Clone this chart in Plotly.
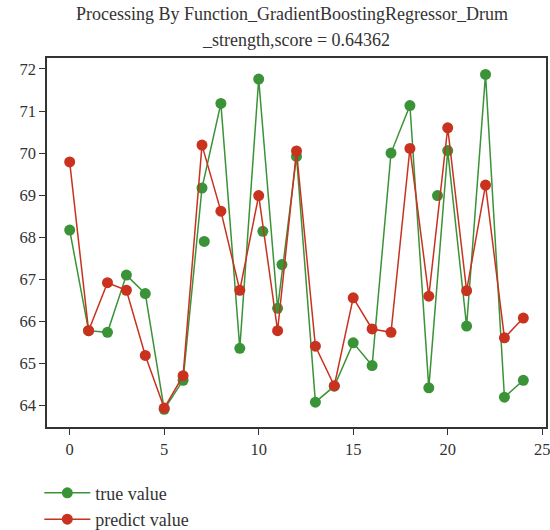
import plotly.graph_objects as go

title_line1 = "Processing By Function_GradientBoostingRegressor_Drum"
title_line2 = "_strength,score = 0.64362"

x_idx = list(range(25))
true_vals = [68.17, 65.78, 65.74, 67.10, 66.66, 63.91, 64.60, 69.17, 71.18, 65.36,
             71.76, 66.31, 69.92, 64.08, 64.46, 65.49, 64.95, 70.00, 71.13, 64.42,
             70.06, 65.89, 71.87, 64.20, 64.60]
pred_vals = [69.79, 65.78, 66.92, 66.74, 65.19, 63.94, 64.71, 70.19, 68.62, 66.74,
             68.99, 65.78, 70.05, 65.41, 64.47, 66.56, 65.82, 65.74, 70.11, 66.60,
             70.60, 66.73, 69.24, 65.61, 66.08]
extra_true_x = [7.12, 10.22, 11.23, 19.46]
extra_true_y = [67.90, 68.14, 67.35, 68.99]

GREEN = "#3a9337"
RED = "#c8321f"
FONT = "Liberation Serif"
AXC = "#333333"

fig = go.Figure()
fig.add_trace(go.Scatter(x=x_idx, y=true_vals, mode="lines+markers", name="true value",
                         legendgroup="t",
                         line=dict(color=GREEN, width=1.5),
                         marker=dict(color=GREEN, size=11)))
fig.add_trace(go.Scatter(x=extra_true_x, y=extra_true_y, mode="markers", showlegend=False,
                         marker=dict(color=GREEN, size=11)))
fig.add_trace(go.Scatter(x=x_idx, y=pred_vals, mode="lines+markers", name="predict value",
                         legendgroup="p",
                         line=dict(color=RED, width=1.5),
                         marker=dict(color=RED, size=11)))

fig.update_layout(
    width=550, height=530,
    margin=dict(l=47, r=4, t=58, b=103, autoexpand=False),
    paper_bgcolor="white", plot_bgcolor="white",
    font=dict(family=FONT, size=16.5, color=AXC),
    title=dict(text=title_line1, x=292 / 550, xref="container", xanchor="center",
               y=1 - 14 / 530, yref="container", yanchor="middle",
               font=dict(family=FONT, size=18, color=AXC)),
    annotations=[dict(text=title_line2, x=(295.5 - 46.7) / 499, xref="paper", xanchor="center",
                      y=1 + (58.3 - 40) / 369, yref="paper", yanchor="middle", showarrow=False,
                      font=dict(family=FONT, size=18, color=AXC))],
    showlegend=True,
    legend=dict(x=-0.0154, xanchor="left", y=-0.129, yanchor="top",
                font=dict(family=FONT, size=18, color=AXC),
                bgcolor="rgba(0,0,0,0)", tracegroupgap=0, itemwidth=46),
)
fig.update_xaxes(range=[-1.2, 25.2], tickvals=[0, 5, 10, 15, 20, 25],
                 showgrid=False, zeroline=False, showline=True, linecolor=AXC, linewidth=1.5,
                 mirror=True, ticks="outside", ticklen=6, tickwidth=1.2, tickcolor=AXC,
                 automargin=False, ticklabeloverflow="allow")
fig.update_yaxes(range=[63.49, 72.26], tickvals=list(range(64, 73)),
                 showgrid=False, zeroline=False, showline=True, linecolor=AXC, linewidth=1.5,
                 mirror=True, ticks="outside", ticklen=6, tickwidth=1.2, tickcolor=AXC,
                 automargin=False, ticklabeloverflow="allow")

fig.write_html("out.html", config={"displayModeBar": False},
               post_script="document.body.style.margin='0';")
